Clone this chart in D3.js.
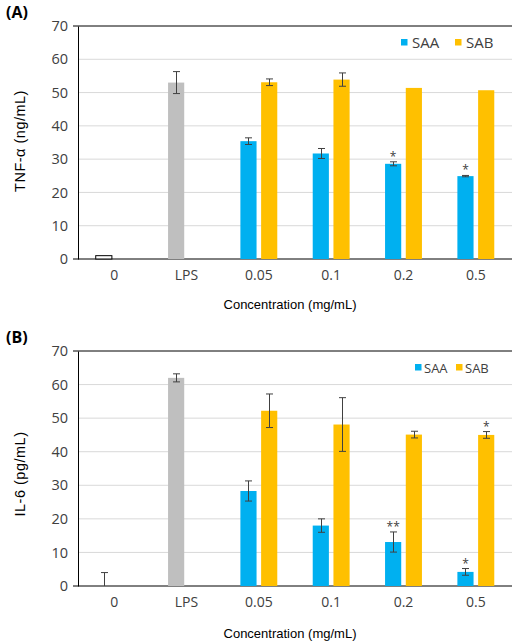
<!DOCTYPE html>
<html>
<head>
<meta charset="utf-8">
<script src="https://cdn.jsdelivr.net/npm/d3@7"></script>
<style>
  body { margin: 0; background: #fff; }
  text { font-family: "Open Sans", sans-serif; fill: #404040; }
  .axis-title { font-family: "Liberation Sans", Arial, sans-serif; fill: #000; }
</style>
</head>
<body>
<div id="root"></div>
<script>
// Categories on the x axis
const categories = ["0", "LPS", "0.05", "0.1", "0.2", "0.5"];
const controls = ["0", "LPS"];
const concentrations = ["0.05", "0.1", "0.2", "0.5"];
const seriesNames = ["SAA", "SAB"];
const yTicks = [0, 10, 20, 30, 40, 50, 60, 70];

// (A) TNF-alpha
const tnfControl = [1, 53];
const tnfControlErr = [0, 3.3];
const tnfSAA = [35.4, 31.7, 28.6, 24.9];
const tnfSAAErr = [1, 1.5, 0.6, 0.2];
const tnfSAB = [53.1, 53.9, 51.4, 50.7];
const tnfSABErr = [1, 2, 0, 0];
const tnfSAASig = ["", "", "*", "*"];
const tnfSABSig = ["", "", "", ""];

// (B) IL-6
const il6Control = [0, 62];
const il6ControlErr = [4, 1.2];
const il6SAA = [28.3, 18, 13.1, 4.2];
const il6SAAErr = [3, 2, 3, 1];
const il6SAB = [52.2, 48.1, 45.1, 45];
const il6SABErr = [5, 8, 1, 1];
const il6SAASig = ["", "", "**", "*"];
const il6SABSig = ["", "", "", "*"];

const width = 513;
const height = 644;

const colors = { SAA: "#00B0F0", SAB: "#FFC000", "0": "#FFFFFF", LPS: "#BFBFBF" };

const svg = d3
  .select("#root")
  .append("svg")
  .attr("width", width)
  .attr("height", height);

const x0 = d3
  .scaleBand()
  .domain(categories)
  .range([78, 512])
  .paddingInner(0.49)
  .paddingOuter(0.245);

const x1 = d3
  .scaleBand()
  .domain(seriesNames)
  .range([0, x0.bandwidth()])
  .paddingInner(0.22);

function drawPanel(cfg) {
  const y = d3.scaleLinear().domain([0, 70]).range([cfg.bottom, cfg.top]);
  const g = svg.append("g");

  // Panel letter
  g.append("text")
    .attr("x", 6)
    .attr("y", cfg.top - 8)
    .attr("font-size", 16)
    .attr("font-weight", "bold")
    .style("fill", "#000")
    .text(cfg.letter);

  // gridlines
  g.append("g")
    .selectAll("line")
    .data(yTicks.filter(d => d > 0 && d < 70))
    .enter()
    .append("line")
    .attr("x1", 78)
    .attr("x2", 512)
    .attr("y1", d => y(d))
    .attr("y2", d => y(d))
    .attr("stroke", "#d9d9d9")
    .attr("stroke-width", 1);

  // y axis
  const yAxis = d3.axisLeft(y).tickValues(yTicks).tickSize(0).tickPadding(10);
  const ya = g.append("g").attr("transform", "translate(78,0)").call(yAxis);
  ya.select(".domain").attr("stroke", "#000");
  ya.selectAll("text")
    .attr("font-size", 14.5)
    .attr("font-family", "Open Sans")
    .attr("fill", "#404040");

  // top border and bottom axis
  g.append("line")
    .attr("x1", 73).attr("x2", 512)
    .attr("y1", y(70)).attr("y2", y(70))
    .attr("stroke", "#000");

  const xAxis = d3.axisBottom(x0).tickSize(0).tickPadding(11);
  const xa = g
    .append("g")
    .attr("transform", "translate(0," + y(0) + ")")
    .call(xAxis);
  xa.select(".domain").remove();
  xa.selectAll("text")
    .attr("font-size", 14)
    .attr("font-family", "Open Sans")
    .attr("fill", "#404040");
  g.append("line")
    .attr("x1", 73).attr("x2", 512)
    .attr("y1", y(0)).attr("y2", y(0))
    .attr("stroke", "#000");

  // build bar rows
  const bars = [];
  controls.forEach((c, i) => {
    bars.push({ cat: c, s: "SAA", v: cfg.control[i], e: cfg.controlErr[i], sig: "", fill: colors[c] });
  });
  concentrations.forEach((c, i) => {
    bars.push({ cat: c, s: "SAA", v: cfg.saa[i], e: cfg.saaErr[i], sig: cfg.saaSig[i], fill: colors.SAA });
    bars.push({ cat: c, s: "SAB", v: cfg.sab[i], e: cfg.sabErr[i], sig: cfg.sabSig[i], fill: colors.SAB });
  });

  const bx = d => x0(d.cat) + x1(d.s);

  g.append("g")
    .selectAll("rect")
    .data(bars.filter(d => d.v > 0))
    .enter()
    .append("rect")
    .attr("x", bx)
    .attr("y", d => y(d.v))
    .attr("width", x1.bandwidth())
    .attr("height", d => y(0) - y(d.v))
    .attr("fill", d => d.fill)
    .attr("stroke", d => (d.cat === "0" ? "#000" : "none"))
    .attr("stroke-width", 1);

  // error bars
  const errs = g.append("g")
    .selectAll("g")
    .data(bars.filter(d => d.e > 0))
    .enter()
    .append("g")
    .attr("stroke", "#404040")
    .attr("stroke-width", 1);
  const cx = d => Math.round(bx(d) + x1.bandwidth() / 2) + 0.5;
  errs.append("line")
    .attr("x1", cx).attr("x2", cx)
    .attr("y1", d => y(Math.max(0, d.v - d.e)))
    .attr("y2", d => y(d.v + d.e));
  errs.append("line")
    .attr("x1", d => cx(d) - 3.5).attr("x2", d => cx(d) + 3.5)
    .attr("y1", d => y(d.v + d.e)).attr("y2", d => y(d.v + d.e));
  errs.filter(d => d.v - d.e >= 0)
    .append("line")
    .attr("x1", d => cx(d) - 3.5).attr("x2", d => cx(d) + 3.5)
    .attr("y1", d => y(d.v - d.e)).attr("y2", d => y(d.v - d.e));

  // significance marks
  g.append("g")
    .selectAll("text")
    .data(bars.filter(d => d.sig))
    .enter()
    .append("text")
    .attr("x", d => bx(d) + x1.bandwidth() / 2)
    .attr("y", d => y(d.v + d.e) - 1)
    .attr("text-anchor", "middle")
    .attr("font-size", 12)
    .text(d => d.sig);

  // legend
  const lg = g.append("g")
    .selectAll("g")
    .data(seriesNames)
    .enter()
    .append("g")
    .attr("transform", (d, i) => "translate(" + cfg.legendX[i] + "," + cfg.legendY + ")");
  lg.append("rect")
    .attr("y", -9)
    .attr("width", 6.5)
    .attr("height", 6.5)
    .attr("fill", d => colors[d]);
  lg.append("text")
    .attr("x", cfg.legendGap)
    .attr("font-size", cfg.legendSize)
    .text(d => d);

  // axis titles
  g.append("text")
    .attr("class", "axis-title")
    .attr("transform", "translate(24.5," + cfg.titleY + ") rotate(-90)")
    .attr("text-anchor", "middle")
    .attr("font-size", 14.5)
    .attr("letter-spacing", 0.5)
    .text(cfg.yTitle);

  g.append("text")
    .attr("class", "axis-title")
    .attr("x", 290)
    .attr("y", cfg.xTitleY)
    .attr("text-anchor", "middle")
    .attr("font-size", 13)
    .text("Concentration (mg/mL)");
}

drawPanel({
  letter: "(A)",
  top: 26,
  bottom: 259,
  control: tnfControl,
  controlErr: tnfControlErr,
  saa: tnfSAA,
  saaErr: tnfSAAErr,
  sab: tnfSAB,
  sabErr: tnfSABErr,
  saaSig: tnfSAASig,
  sabSig: tnfSABSig,
  legendX: [401, 455],
  legendY: 48,
  legendGap: 11,
  legendSize: 15,
  yTitle: "TNF-α (ng/mL)",
  titleY: 141,
  xTitleY: 309
});

drawPanel({
  letter: "(B)",
  top: 351,
  bottom: 586,
  control: il6Control,
  controlErr: il6ControlErr,
  saa: il6SAA,
  saaErr: il6SAAErr,
  sab: il6SAB,
  sabErr: il6SABErr,
  saaSig: il6SAASig,
  sabSig: il6SABSig,
  legendX: [415, 456],
  legendY: 373,
  legendGap: 9,
  legendSize: 13,
  yTitle: "IL-6 (pg/mL)",
  titleY: 474,
  xTitleY: 638
});
</script>
</body>
</html>
